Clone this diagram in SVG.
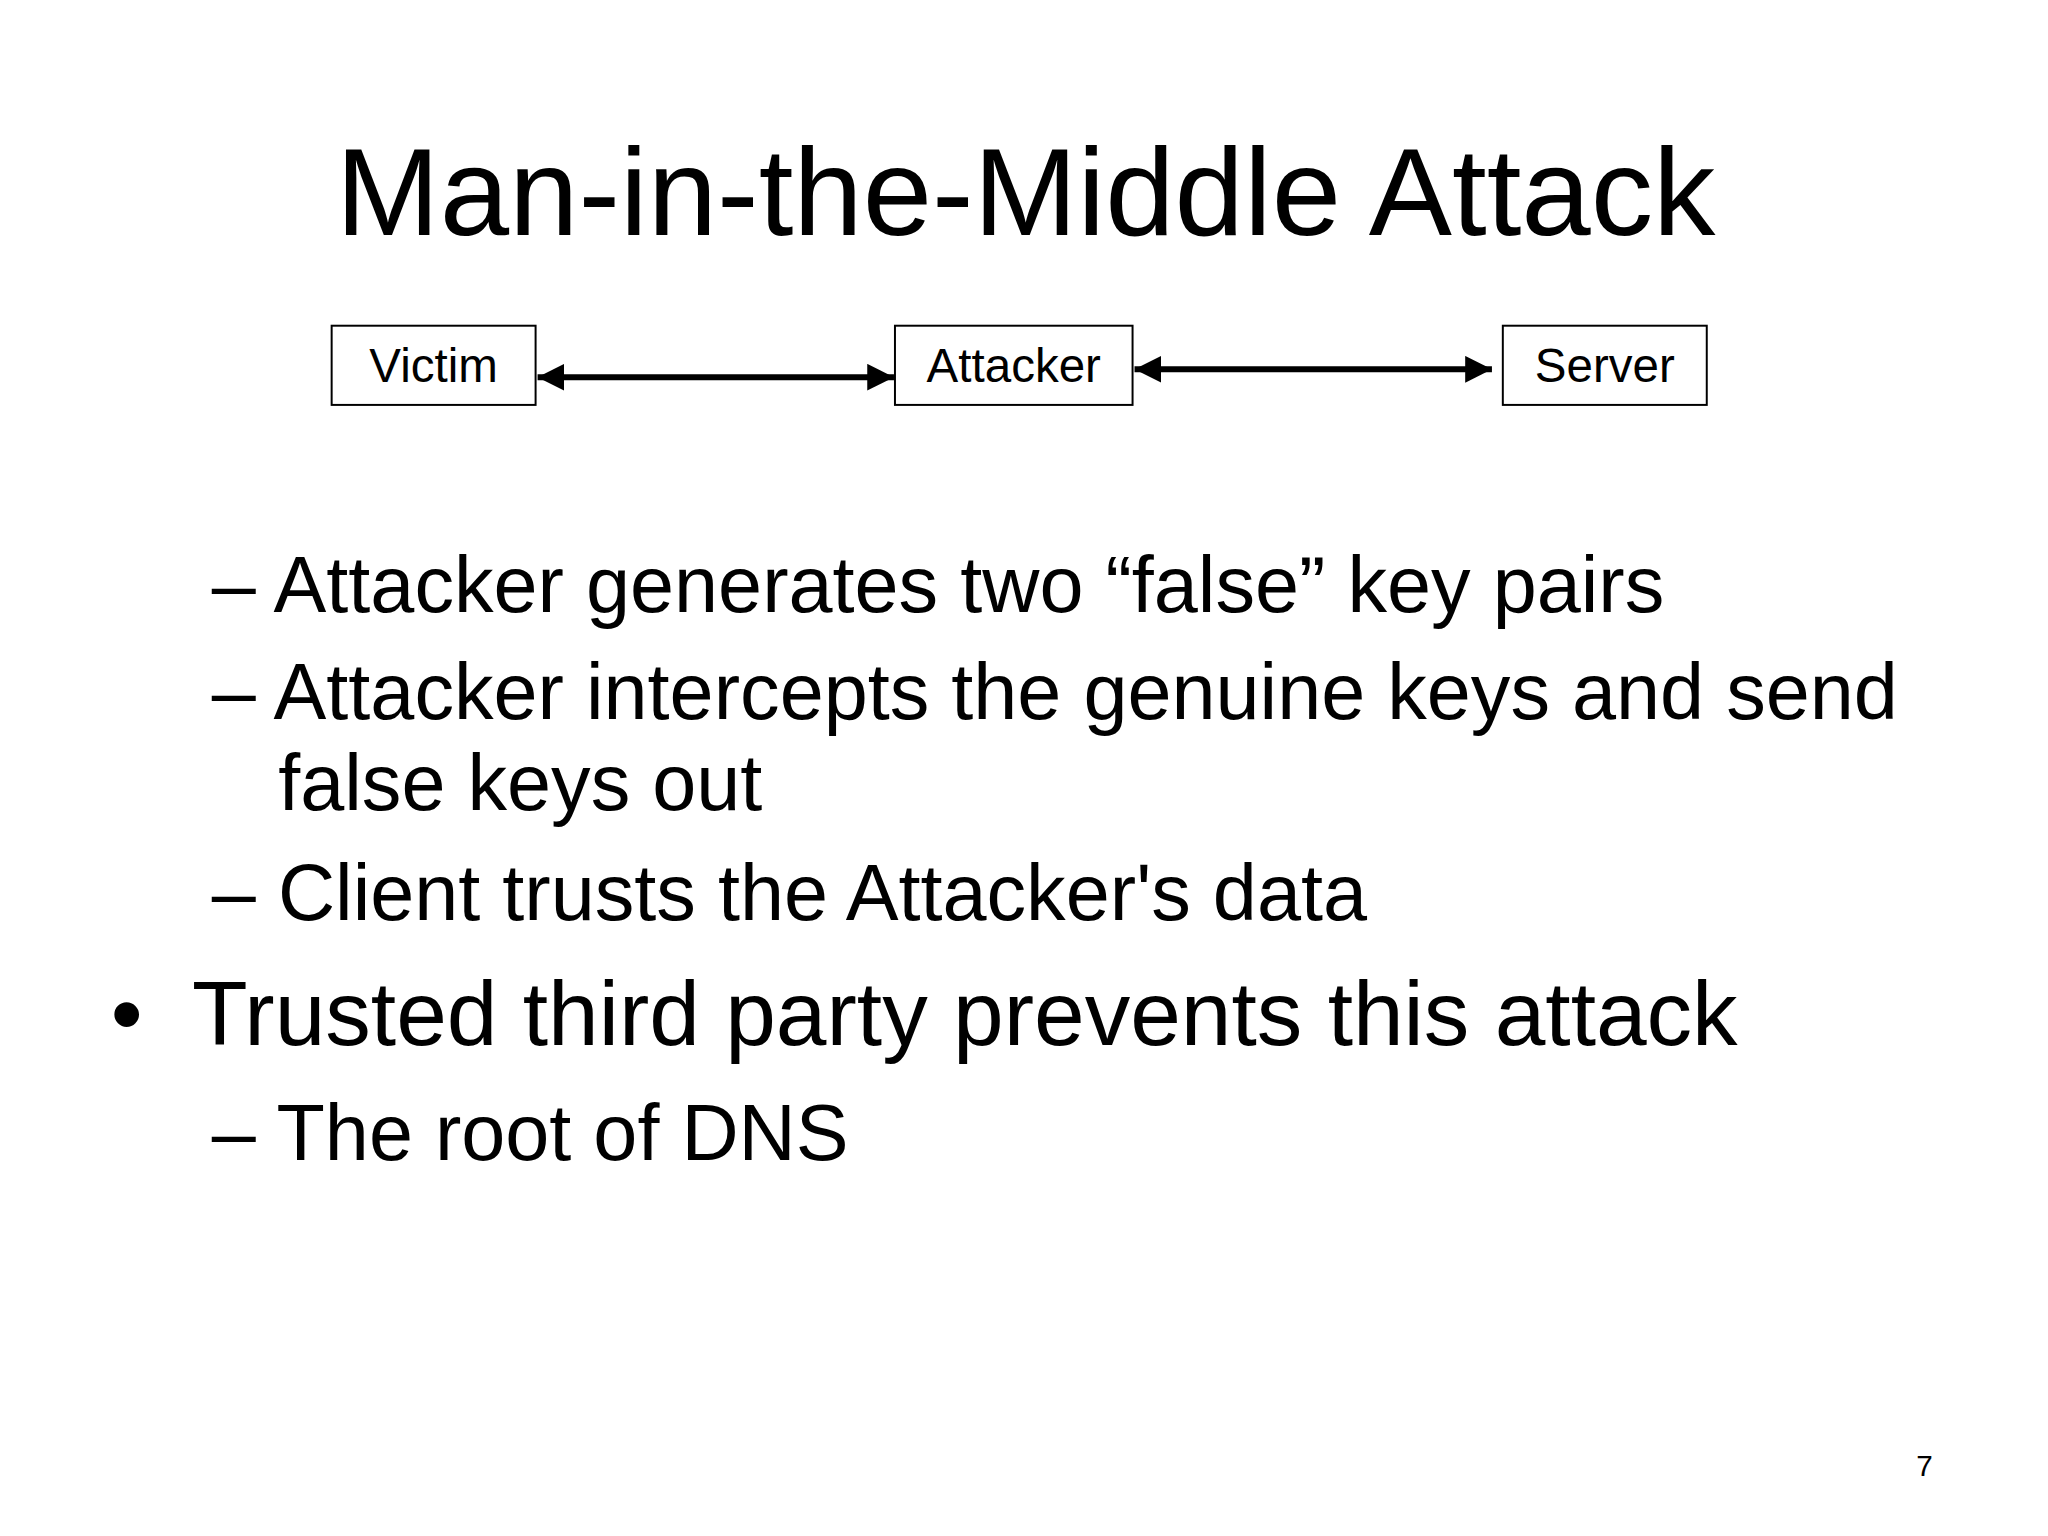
<svg xmlns="http://www.w3.org/2000/svg" width="2048" height="1536" viewBox="0 0 2048 1536">
<style>
text{font-family:"Liberation Sans",Arial,sans-serif;fill:#000}
.box{fill:#fff;stroke:#000;stroke-width:2}
.lbl{font-size:48px;text-anchor:middle}
.b{font-size:80px}
.b1{font-size:92px}
.ln{stroke:#000;stroke-width:6;marker-start:url(#a);marker-end:url(#a)}
</style>
<defs><marker id="a" viewBox="0 0 10 10" refX="10" refY="5" markerWidth="4.5" markerHeight="4.5" orient="auto-start-reverse" markerUnits="strokeWidth"><path d="M0,0L10,5L0,10z"/></marker></defs>
<rect width="2048" height="1536" fill="#fff"/>
<g transform="scale(0.99)">
<text x="1036" y="237" font-size="126" text-anchor="middle">Man-in-the-Middle Attack</text>
<g id="victim"><rect class="box" x="335" y="329" width="206" height="80"/><text class="lbl" x="438" y="386">Victim</text></g>
<g id="attacker"><rect class="box" x="904" y="329" width="240" height="80"/><text class="lbl" x="1024" y="386">Attacker</text></g>
<g id="server"><rect class="box" x="1518" y="329" width="206" height="80"/><text class="lbl" x="1621" y="386">Server</text></g>
<g id="connectors">
<line class="ln" x1="543" y1="381" x2="903" y2="381"/>
<line class="ln" x1="1146" y1="373" x2="1507" y2="373"/>
</g>
<text class="b" x="214" y="618">– Attacker generates two “false” key pairs</text>
<text class="b" x="214" y="726">– Attacker intercepts the genuine keys and send</text>
<text class="b" x="281" y="818">false keys out</text>
<text class="b" x="214" y="929">– Client trusts the Attacker's data</text>
<text class="b1" x="112" y="1056">•</text>
<text class="b1" x="194" y="1056">Trusted third party prevents this attack</text>
<text class="b" x="214" y="1172">– The root of DNS</text>
<text x="1944" y="1491" font-size="30" text-anchor="middle">7</text>
</g>
</svg>
